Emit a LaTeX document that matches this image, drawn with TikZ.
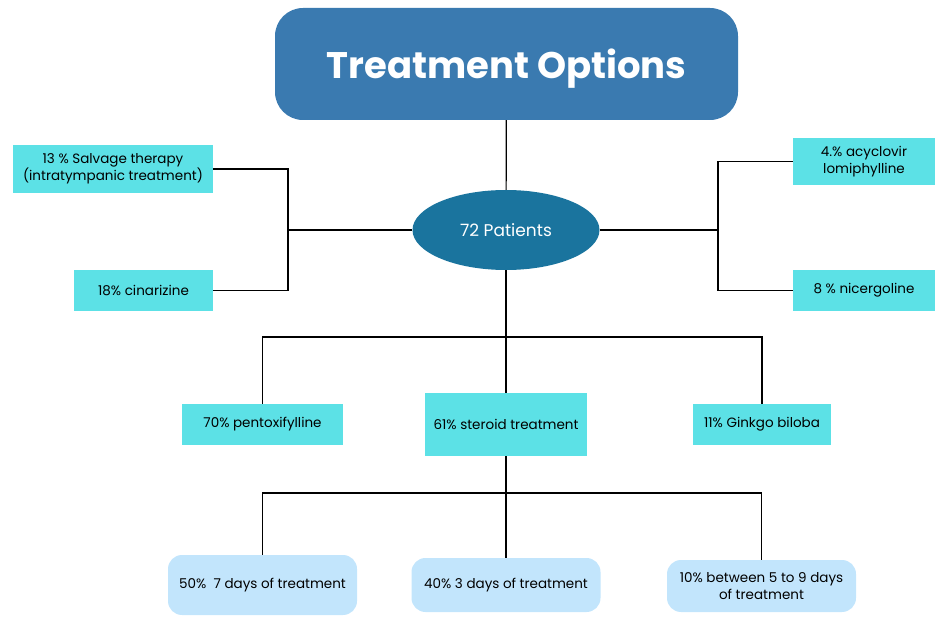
\documentclass[tikz,border=0pt]{standalone}
\usepackage{fontspec}
\setmainfont{Poppins}
\usetikzlibrary{shapes.geometric}

\definecolor{titleblue}{RGB}{58,122,176}
\definecolor{patblue}{RGB}{26,116,158}
\definecolor{drugcyan}{RGB}{92,225,230}
\definecolor{dayblue}{RGB}{194,229,252}

\begin{document}
\begin{tikzpicture}[x=1pt,y=-1pt,
        drug/.style={fill=drugcyan, minimum height=41pt, align=center, inner sep=2pt,
            font=\fontsize{13.5}{17}\selectfont},
        days/.style={fill=dayblue, rounded corners=14pt, minimum width=189pt, minimum height=54pt,
            align=center, inner sep=2pt, font=\fontsize{13.5}{17}\selectfont},
        link/.style={line width=1.2pt}]
        \useasboundingbox (0,0) rectangle (935,617);

        \node[fill=titleblue, rounded corners=28pt, minimum width=463pt, minimum height=112pt, text depth=0pt,
            text=white, font=\bfseries\fontsize{37}{44}\selectfont] (title) at (506.5,64) {Treatment Options};
        \node[ellipse, fill=patblue, minimum width=187pt, minimum height=80pt, inner sep=0pt,
            text=white, font=\fontsize{17}{20}\selectfont] (pat) at (506,230) {72 Patients};

        \node[drug, minimum width=200pt, minimum height=48pt] (salv) at (113,169) {13 \% Salvage therapy\\(intratympanic treatment)};
        \node[drug, minimum width=139pt] (cina) at (143.5,290.5) {18\% cinarizine};
        \node[drug, minimum width=142pt, minimum height=47pt] (acyc) at (864,161.5) {4.\% acyclovir\\lomiphylline};
        \node[drug, minimum width=142pt] (nice) at (864,290.5) {8 \% nicergoline};

        \node[drug, minimum width=161pt] (pent) at (262.5,424.5) {70\% pentoxifylline};
        \node[drug, minimum width=162pt, minimum height=63pt] (ster) at (506,424.5) {61\% steroid treatment};
        \node[drug, minimum width=138pt] (gink) at (762,424.5) {11\% Ginkgo biloba};

        \node[days, minimum height=60pt] (seven) at (262.5,585) {50\%~~7 days of treatment};
        \node[days] (three) at (506,585) {40\% 3 days of treatment};
        \node[days, minimum height=52pt] (range) at (761.5,586) {10\% between 5 to 9 days\\of treatment};

        \coordinate (lj) at (288,230);
        \coordinate (rj) at (718,230);
        \coordinate (mj) at (506,337);
        \coordinate (bj) at (506,493);

        \draw[link] (title) -- (pat);
        \draw[link] (pat.west) -- (lj);
        \draw[link] (salv.east) -| (lj) |- (cina.east);
        \draw[link] (pat.east) -- (rj);
        \draw[link] (acyc.west) -| (rj) |- (nice.west);

        \draw[link] (pat) -- (ster);
        \draw[link] (pent.north) |- (mj) -| (gink.north);
        \draw[link] (ster) -- (three);
        \draw[link] (seven.north) |- (bj) -| (range.north);
\end{tikzpicture}
\end{document}
